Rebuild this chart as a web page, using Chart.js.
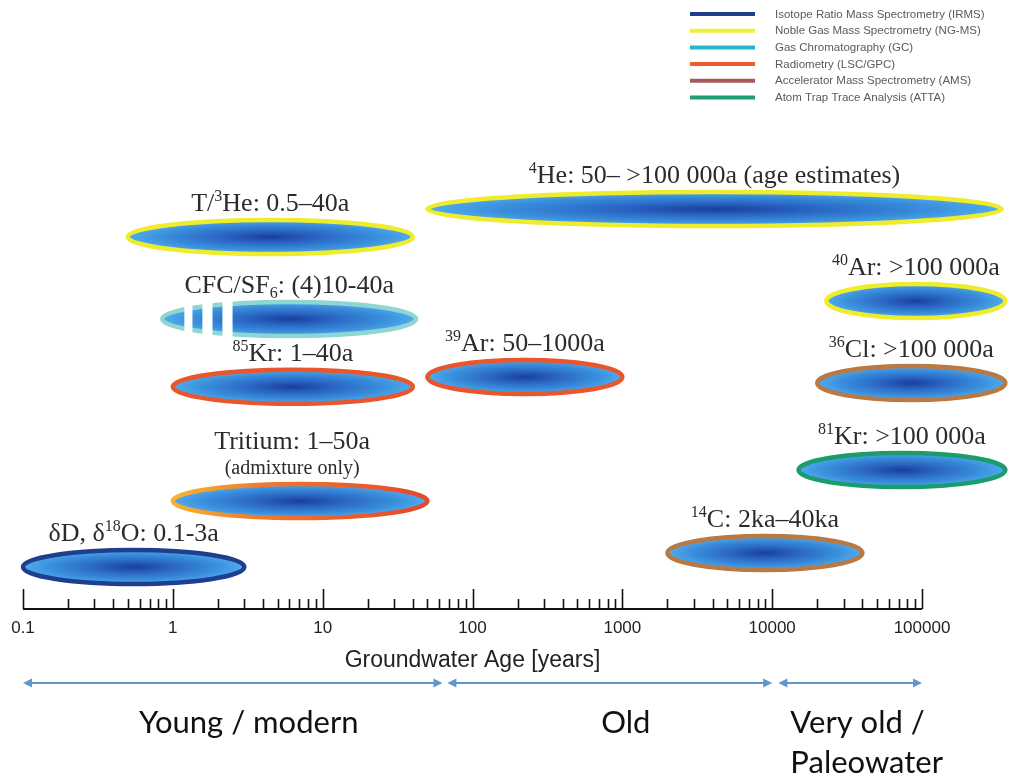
<!DOCTYPE html>
<html>
<head>
<meta charset="utf-8">
<script src="https://cdn.jsdelivr.net/npm/chart.js@4.4.1/dist/chart.umd.min.js"></script>
<style>
  html, body { margin: 0; padding: 0; background: #ffffff; }
  #wrap { width: 1017px; height: 780px; }
</style>
</head>
<body>
<div id="wrap"><canvas id="chart" width="1017" height="780"></canvas></div>
<script>
// Analytical methods shown in the legend
const methods = [
  'Isotope Ratio Mass Spectrometry (IRMS)',
  'Noble Gas Mass Spectrometry (NG-MS)',
  'Gas Chromatography (GC)',
  'Radiometry (LSC/GPC)',
  'Accelerator Mass Spectrometry (AMS)',
  'Atom Trap Trace Analysis (ATTA)'
];

// Tracers with their dating range in years and the method used
const tracerLabels = [
  'δD, δ^{18}O: 0.1-3a',
  'T/^{3}He: 0.5–40a',
  'CFC/SF_{6}: (4)10-40a',
  '^{85}Kr: 1–40a',
  'Tritium: 1–50a',
  '^{39}Ar: 50–1000a',
  '^{4}He: 50– >100 000a (age estimates)',
  '^{14}C: 2ka–40ka',
  '^{40}Ar: >100 000a',
  '^{36}Cl: >100 000a',
  '^{81}Kr: >100 000a'
];
const tracerNotes = ['', '', '', '', '(admixture only)', '', '', '', '', '', ''];
const ageFrom = [0.1, 0.5, 0.85, 1, 1, 50, 50, 2000, 23000, 20000, 15000];
const ageTo = [3, 40, 42, 40, 50, 1000, 340000, 40000, 360000, 360000, 360000];
const tracerMethod = [0, 1, 2, 3, 3, 3, 1, 4, 1, 4, 5];
// vertical slot of each tracer band
const tracerRow = [1.45, 12.83, 10.0, 7.66, 3.72, 8.0, 13.79, 1.93, 10.62, 7.79, 4.79];

// Age axis
const tickValues = [0.1, 1, 10, 100, 1000, 10000, 100000];
const tickLabels = ['0.1', '1', '10', '100', '1000', '10000', '100000'];

// Groundwater age classes below the axis
const ageClasses = [['Young / modern'], ['Old'], ['Very old /', 'Paleowater']];
const classFrom = [0.1, 68, 11000];
const classTo = [63, 10000, 100000];

// ---- styling ----
const methodColors = ['#1d3f8e', '#f1ef3a', '#2ab3cc', '#ef5b2e', '#a65a5c', '#1f9f6f'];
const rimColors = ['#1d3f8e', '#eeec2c', '#8fd6d2', '#e9562b', '#b97944', '#1b9c6b'];
const SERIF = '"Liberation Serif", "Times New Roman", serif';
const SANS = '"Liberation Sans", Arial, sans-serif';

function parseRich(str) {
  const out = [];
  const re = /([\^_])\{([^}]*)\}/g;
  let last = 0, m;
  while ((m = re.exec(str)) !== null) {
    if (m.index > last) out.push({ t: str.slice(last, m.index), k: 'n' });
    out.push({ t: m[2], k: m[1] === '^' ? 'sup' : 'sub' });
    last = re.lastIndex;
  }
  if (last < str.length) out.push({ t: str.slice(last), k: 'n' });
  return out;
}

function drawRich(ctx, str, cx, baseline, size) {
  const segs = parseRich(str);
  const small = Math.round(size * 0.62);
  const fontFor = k => (k === 'n' ? size : small) + 'px ' + SERIF;
  let total = 0;
  segs.forEach(s => { ctx.font = fontFor(s.k); s.w = ctx.measureText(s.t).width; total += s.w; });
  let x = cx - total / 2;
  ctx.textAlign = 'left';
  ctx.textBaseline = 'alphabetic';
  segs.forEach(s => {
    ctx.font = fontFor(s.k);
    const dy = s.k === 'sup' ? -size * 0.38 : (s.k === 'sub' ? size * 0.2 : 0);
    ctx.fillText(s.t, x, baseline + dy);
    x += s.w;
  });
}

// Draws each floating bar as a shaded ellipse with a coloured rim
const ellipseBands = {
  id: 'ellipseBands',
  afterDatasetsDraw(chart) {
    const ctx = chart.ctx;
    const ds = chart.data.datasets[0];
    chart.getDatasetMeta(0).data.forEach((el, i) => {
      const p = el.getProps(['x', 'y', 'base', 'height'], true);
      const left = Math.min(p.x, p.base), right = Math.max(p.x, p.base);
      const cx = (left + right) / 2, cy = p.y;
      const rx = (right - left) / 2, ry = p.height / 2;

      ctx.save();
      ctx.translate(cx, cy);
      ctx.scale(rx, ry);
      const g = ctx.createRadialGradient(0, 0, 0, 0, 0, 1);
      g.addColorStop(0, '#1a3e9c');
      g.addColorStop(0.35, '#2a66c4');
      g.addColorStop(0.75, '#3a8fdc');
      g.addColorStop(1, '#4fabee');
      ctx.beginPath();
      ctx.arc(0, 0, 1, 0, Math.PI * 2);
      ctx.fillStyle = g;
      ctx.fill();
      ctx.restore();

      let stroke = ds.borderColor[i];
      if (i === 4) {
        const lg = ctx.createLinearGradient(left, cy - ry, right, cy + ry);
        lg.addColorStop(0, '#f6b534');
        lg.addColorStop(0.35, '#f07a2c');
        lg.addColorStop(1, '#e6452a');
        stroke = lg;
      }
      ctx.save();
      ctx.beginPath();
      ctx.ellipse(cx, cy, rx, ry, 0, 0, Math.PI * 2);
      ctx.lineWidth = 4.5;
      ctx.strokeStyle = stroke;
      ctx.stroke();
      ctx.restore();

      // broken start of the CFC/SF6 band
      if (i === 2) {
        ctx.save();
        ctx.fillStyle = '#ffffff';
        [[0.087, 0.119], [0.158, 0.198], [0.237, 0.277]].forEach(([a, b]) => {
          ctx.fillRect(left + a * (right - left), cy - ry - 4, (b - a) * (right - left), p.height + 8);
        });
        ctx.restore();
      }

      // label above the band
      ctx.save();
      ctx.fillStyle = '#2b2b2b';
      const top = cy - ry - 2;
      if (tracerNotes[i]) {
        drawRich(ctx, tracerLabels[i], cx - 8, top - 33, 26);
        ctx.font = '20px ' + SERIF;
        ctx.textAlign = 'center';
        ctx.fillText(tracerNotes[i], cx - 8, top - 8);
      } else {
        drawRich(ctx, tracerLabels[i], cx, top - 7, 26);
      }
      ctx.restore();
    });
  }
};

// Tick marks on the age axis, legend, and age-class arrows
const decorations = {
  id: 'decorations',
  afterDraw(chart) {
    const ctx = chart.ctx;
    const xs = chart.scales.x;
    const yAxis = chart.chartArea.bottom;

    ctx.save();
    ctx.strokeStyle = '#111111';
    ctx.beginPath();
    ctx.moveTo(xs.getPixelForValue(tickValues[0]), yAxis);
    ctx.lineTo(xs.getPixelForValue(tickValues[tickValues.length - 1]), yAxis);
    ctx.lineWidth = 2.2;
    ctx.stroke();
    ctx.lineWidth = 1.6;
    tickValues.forEach((v, d) => {
      const px = Math.round(xs.getPixelForValue(v)) + 0.5;
      ctx.beginPath();
      ctx.moveTo(px, yAxis);
      ctx.lineTo(px, yAxis - 20);
      ctx.stroke();
      if (d < tickValues.length - 1) {
        for (let k = 2; k <= 9; k++) {
          const mx = Math.round(xs.getPixelForValue(v * k)) + 0.5;
          ctx.beginPath();
          ctx.moveTo(mx, yAxis);
          ctx.lineTo(mx, yAxis - 10);
          ctx.stroke();
        }
      }
    });
    ctx.restore();

    // legend
    ctx.save();
    methods.forEach((m, i) => {
      const y = 14 + i * 16.7;
      ctx.strokeStyle = methodColors[i];
      ctx.lineWidth = 4;
      ctx.beginPath();
      ctx.moveTo(690, y);
      ctx.lineTo(755, y);
      ctx.stroke();
      ctx.fillStyle = '#5a5a5a';
      ctx.font = '11.5px ' + SANS;
      ctx.textAlign = 'left';
      ctx.textBaseline = 'middle';
      ctx.fillText(m, 775, y + 0.5);
    });
    ctx.restore();

    // age classes
    const ay = yAxis + 74;
    ctx.save();
    ageClasses.forEach((lines, i) => {
      const x0 = xs.getPixelForValue(classFrom[i]);
      const x1 = xs.getPixelForValue(classTo[i]);
      ctx.strokeStyle = '#5d97cc';
      ctx.fillStyle = '#5d97cc';
      ctx.lineWidth = 2;
      ctx.beginPath();
      ctx.moveTo(x0 + 4, ay);
      ctx.lineTo(x1 - 4, ay);
      ctx.stroke();
      [[x0, 1], [x1, -1]].forEach(([hx, dir]) => {
        ctx.beginPath();
        ctx.moveTo(hx, ay);
        ctx.lineTo(hx + dir * 9, ay - 4.5);
        ctx.lineTo(hx + dir * 9, ay + 4.5);
        ctx.closePath();
        ctx.fill();
      });
      ctx.fillStyle = '#111111';
      ctx.font = '31px Lato, "Open Sans", sans-serif';
      ctx.textBaseline = 'alphabetic';
      lines.forEach((t, j) => {
        const by = ay + 50 + j * 40;
        if (lines.length > 1) {
          ctx.textAlign = 'left';
          ctx.fillText(t, x0 + 12, by);
        } else {
          ctx.textAlign = 'center';
          ctx.fillText(t, (x0 + x1) / 2 + 16, by);
        }
      });
    });
    ctx.restore();
  }
};

new Chart(document.getElementById('chart'), {
  type: 'bar',
  data: {
    datasets: [{
      data: tracerLabels.map((_, i) => ({ x: [ageFrom[i], ageTo[i]], y: tracerRow[i] })),
      backgroundColor: 'rgba(0,0,0,0)',
      borderColor: tracerMethod.map(m => rimColors[m]),
      borderWidth: 0,
      barThickness: 34,
      grouped: false,
      clip: false
    }]
  },
  plugins: [ellipseBands, decorations],
  options: {
    indexAxis: 'y',
    responsive: false,
    animation: false,
    devicePixelRatio: 1,
    layout: { padding: { left: 23, right: 95, top: 174, bottom: 110 } },
    plugins: { legend: { display: false }, tooltip: { enabled: false } },
    scales: {
      x: {
        type: 'logarithmic',
        min: 0.1,
        max: 100000,
        afterBuildTicks: scale => { scale.ticks = tickValues.map(v => ({ value: v })); },
        afterFit: scale => { scale.height = 61; },
        ticks: {
          autoSkip: false,
          maxRotation: 0,
          padding: 9,
          color: '#222222',
          font: { family: SANS, size: 17 },
          callback: (v, i) => tickLabels[i]
        },
        grid: { display: false, drawTicks: false },
        border: { display: false },
        title: {
          display: true,
          text: 'Groundwater Age [years]',
          color: '#222222',
          font: { family: SANS, size: 23, lineHeight: 0.85 },
          padding: { top: 0, bottom: 0 }
        }
      },
      y: { type: 'linear', min: 0, max: 15, offset: false, display: false }
    }
  }
});
</script>
</body>
</html>
